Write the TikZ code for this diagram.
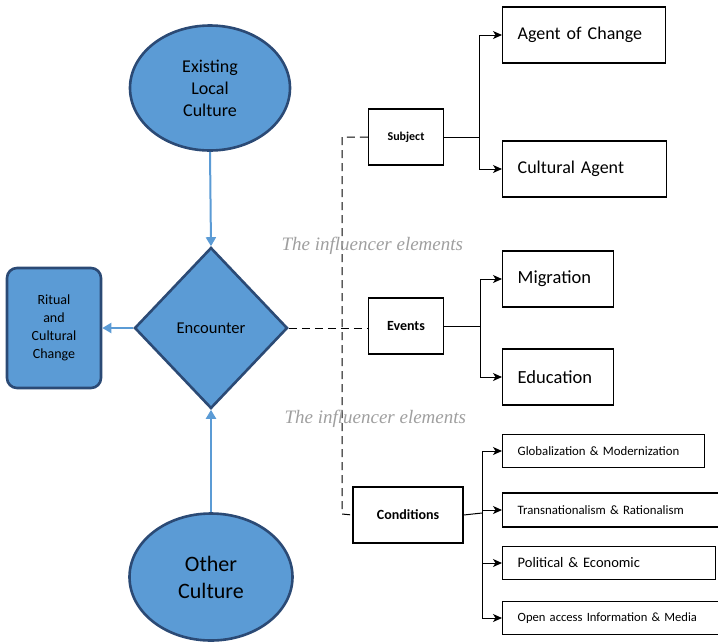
\documentclass[tikz,border=0pt]{standalone}
\usepackage{fontspec}
\setmainfont{Carlito}
\newfontfamily\labfont{Liberation Serif}
\usetikzlibrary{shapes.geometric,arrows.meta}
\definecolor{bfill}{HTML}{5B9BD5}
\definecolor{bdraw}{HTML}{2B4A75}
\definecolor{barrow}{HTML}{5B9BD5}
\begin{document}
\begin{tikzpicture}[x=1pt,y=-1pt,
  blueshape/.style={fill=bfill,draw=bdraw,line width=2.6pt,text=black,align=center,inner sep=0pt},
  bluearrow/.style={draw=barrow,line width=2pt,-{Triangle[length=9pt,width=10pt]}},
  wbox/.style={draw=black,line width=1.4pt,fill=white,inner sep=0pt,align=center},
  rbox/.style={draw=black,line width=1.4pt,fill=white,inner ysep=0pt,inner xsep=15pt,align=left,anchor=west},
  barrowk/.style={line width=1pt,-{Stealth[length=9pt,width=8pt,inset=2.5pt]}},
  dashline/.style={dash pattern=on 8pt off 5pt,line width=1pt},
  inftext/.style={text=gray!75,font=\labfont\itshape\fontsize{19}{22}\selectfont}]
\useasboundingbox (0,0) rectangle (718,641);
% blue shapes
\node[blueshape,ellipse,minimum width=160pt,minimum height=125pt,font=\fontsize{18}{22}\selectfont] (elc) at (210,88) {Existing\\Local\\Culture};
\node[blueshape,diamond,minimum width=153pt,minimum height=161pt,font=\fontsize{16.5}{19}\selectfont] (enc) at (211,328) {Encounter};
\node[blueshape,rounded corners=10pt,minimum width=94pt,minimum height=120pt,font=\fontsize{14}{18}\selectfont] (rit) at (54,328) {Ritual\\and\\Cultural\\Change};
\node[blueshape,ellipse,minimum width=163pt,minimum height=127pt,font=\fontsize{22}{27}\selectfont] (oth) at (211,577) {Other\\Culture};
\draw[bluearrow] (elc.south) -- (enc.north);
\draw[bluearrow] (oth.north) -- (enc.south);
\draw[bluearrow] (enc.west) -- (rit.east);
% middle boxes
\node[wbox,minimum width=75pt,minimum height=56pt,font=\bfseries\fontsize{12}{14}\selectfont] (subj) at (406,137) {Subject};
\node[wbox,minimum width=75pt,minimum height=56pt,font=\bfseries\fontsize{14}{16}\selectfont] (evt) at (406,326) {Events};
\node[wbox,minimum width=110pt,minimum height=56pt,font=\bfseries\fontsize{14}{16}\selectfont] (cond) at (408,515) {Conditions};
% right boxes
\node[rbox,minimum width=163pt,minimum height=56pt,font=\fontsize{18}{21}\selectfont,text width=133pt] (agc) at (502,35) {Agent of Change};
\node[rbox,minimum width=164pt,minimum height=56pt,font=\fontsize{18}{21}\selectfont,text width=134pt] (cag) at (502,169) {Cultural Agent};
\node[rbox,minimum width=111pt,minimum height=56pt,font=\fontsize{18.5}{21}\selectfont,text width=81pt] (mig) at (502,279) {Migration};
\node[rbox,minimum width=111pt,minimum height=56pt,font=\fontsize{18.5}{21}\selectfont,text width=81pt] (edu) at (502,377) {Education};
\node[rbox,minimum width=202pt,minimum height=33pt,font=\fontsize{12.8}{15}\selectfont,text width=172pt] (glo) at (502,451) {Globalization \& Modernization};
\node[rbox,minimum width=222pt,minimum height=34pt,font=\fontsize{12.8}{15}\selectfont,text width=192pt] (tra) at (502,510) {Transnationalism \& Rationalism};
\node[rbox,minimum width=213pt,minimum height=33pt,font=\fontsize{14.5}{17}\selectfont,text width=183pt] (pol) at (502,563) {Political \& Economic};
\node[rbox,minimum width=222pt,minimum height=33pt,font=\fontsize{12.6}{15}\selectfont,text width=192pt] (opn) at (502,618) {Open access Information \& Media};
% branch points
\coordinate (bs) at (479,137);
\coordinate (be) at (480,326);
\coordinate (bc) at (482,513);
\draw[line width=1pt] (subj.east) -- (bs);
\draw[barrowk] (bs) |- (agc.west);
\draw[barrowk] (bs) |- (cag.west);
\draw[line width=1pt] (evt.east) -- (be);
\draw[barrowk] (be) |- (mig.west);
\draw[barrowk] (be) |- (edu.west);
\draw[line width=1pt] (cond.east) -- (bc);
\draw[barrowk] (bc) |- (glo.west);
\draw[barrowk] (bc) |- (tra.west);
\draw[barrowk] (bc) |- (pol.west);
\draw[barrowk] (bc) |- (opn.west);
% dashed connectors
\coordinate (dt) at (342,137);
\coordinate (db) at (342,514);
\draw[dashline] (enc.east) -- (enc.east -| evt.west);
\draw[dashline] (subj.west) -- (dt) -- (db) -- (cond.west);
% labels
\node[inftext,anchor=west] (inf1) at (278,246) {The influencer elements};
\node[inftext,anchor=west] (inf2) at (281,419) {The influencer elements};
\end{tikzpicture}
\end{document}
